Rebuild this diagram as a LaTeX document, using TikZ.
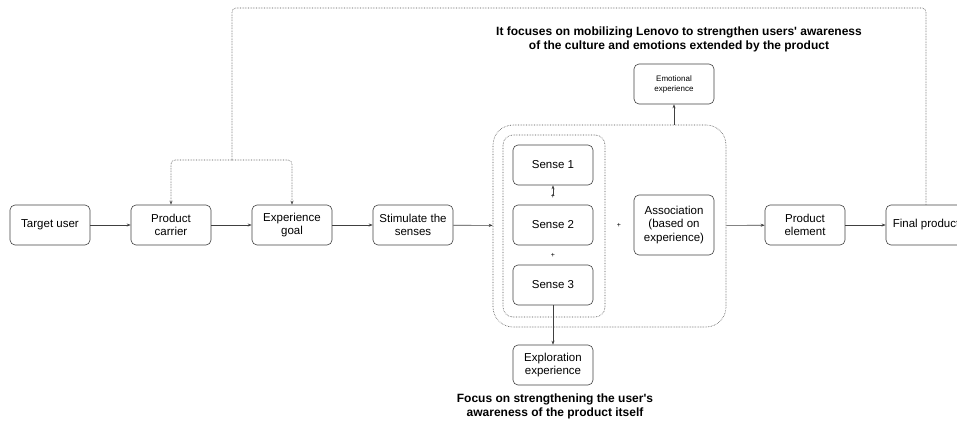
\documentclass[tikz,border=0pt]{standalone}
\usepackage{fontspec}
\setmainfont{Liberation Sans}
\usetikzlibrary{arrows.meta}

\begin{document}
\begin{tikzpicture}[x=1pt,y=-1pt,
  box/.style={draw=black!75, line width=0.6pt, rounded corners=5pt, minimum width=80pt,
    minimum height=40pt, align=center, inner sep=1pt, font=\fontsize{11.5}{13.5}\selectfont},
  arr/.style={draw=black!75, line width=0.6pt, -{Stealth[length=4pt,width=3pt]}},
  dots/.style={draw=black!70, line width=0.6pt, densely dotted},
  plus/.style={inner sep=0pt, font=\fontsize{7}{7}\selectfont},
  note/.style={align=center, font=\bfseries\fontsize{12}{14}\selectfont}]
\useasboundingbox (0,0) rectangle (957,425);
\clip (0,0) rectangle (957,425);

% main row
\node[box] (user)     at (50,225)  {Target user};
\node[box] (carrier)  at (171,225) {Product\\carrier};
\node[box] (goal)     at (292,225) {Experience\\goal};
\node[box] (senses)   at (413,225) {Stimulate the\\senses};

% grouped senses
\node[dots, rounded corners=20pt, minimum width=233pt, minimum height=202pt] (outer) at (609.5,226) {};
\node[dots, rounded corners=10pt, minimum width=102pt, minimum height=182pt] (inner) at (554,226) {};
\node[box] (s1) at (553,165) {Sense 1};
\node[box] (s2) at (553,225) {Sense 2};
\node[box] (s3) at (553,285) {Sense 3};
\node[plus] (plus1) at (553,196) {+};
\node[plus] (plus2) at (553,255) {+};
\node[plus] (plus3) at (619,225) {+};
\node[box, minimum height=60pt] (assoc) at (674,225) {Association\\(based on\\experience)};

\node[box] (element) at (805,225) {Product\\element};
\node[box] (final)   at (926,225) {Final product};

\node[box, font=\fontsize{8}{10}\selectfont] (emotion) at (674,84) {Emotional\\experience};
\node[box] (explore) at (553,365) {Exploration\\experience};

\node[note] (topnote) at (679,39) {It focuses on mobilizing Lenovo to strengthen users\textquotesingle\ awareness\\of the culture and emotions extended by the product};
\node[note] (botnote) at (555,406) {Focus on strengthening the user\textquotesingle s\\awareness of the product itself};

% arrows
\draw[arr] (user) -- (carrier);
\draw[arr] (carrier) -- (goal);
\draw[arr] (goal) -- (senses);
\draw[arr] (senses) -- (outer);
\draw[arr] (outer) -- (element);
\draw[arr] (element) -- (final);
\draw[arr] (plus1.center) -- (s1);
\draw[arr] (emotion.south |- outer.north) -- (emotion);
\draw[arr] (s3) -- (explore);

% feedback loop
\coordinate (fb) at (232,160);
\draw[dots, rounded corners=4pt] (final.north) |- (232,8) -- (fb);
\draw[dots, rounded corners=4pt, -{Stealth[length=4pt,width=3pt]}] (fb) -| (carrier.north);
\draw[dots, rounded corners=4pt, -{Stealth[length=4pt,width=3pt]}] (fb) -| (goal.north);
\end{tikzpicture}
\end{document}
